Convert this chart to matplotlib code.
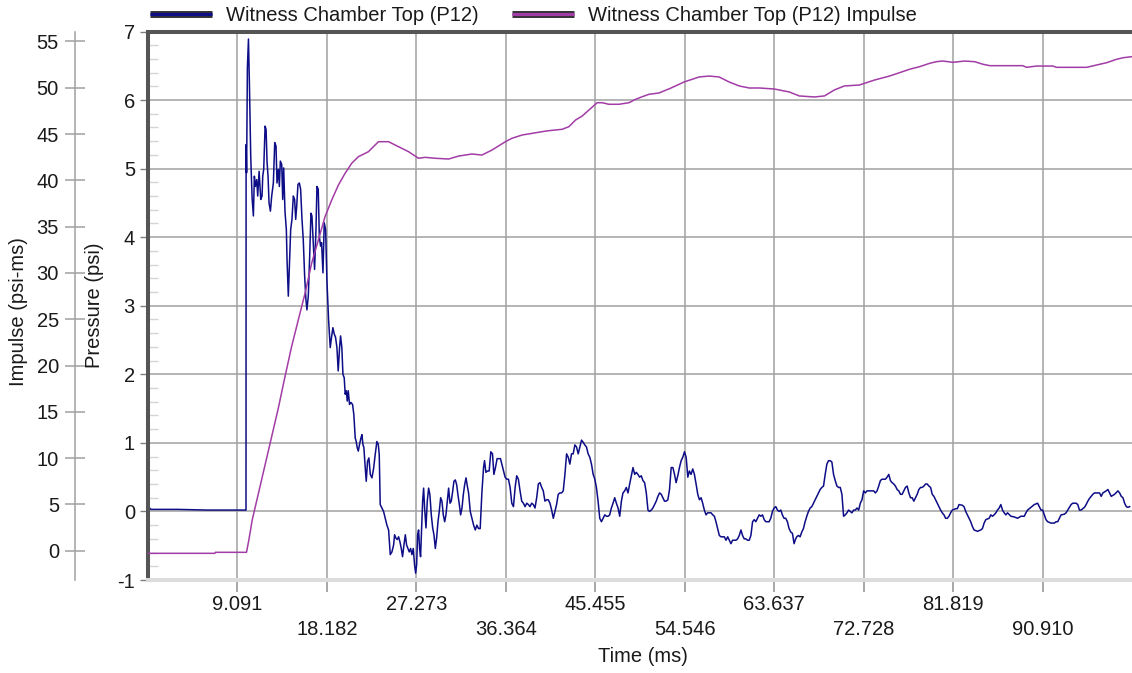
import numpy as np
import matplotlib.pyplot as plt
import matplotlib.patheffects as pe
from matplotlib.lines import Line2D
from matplotlib.ticker import MultipleLocator

plt.rcParams['font.family'] = ['Liberation Sans', 'DejaVu Sans']
plt.rcParams['font.size'] = 14.5
plt.rcParams['axes.unicode_minus'] = False

# Witness Chamber Top (P12) - pressure, time in ms / pressure in psi
t_pre = [0.0, 0.08, 0.3, 3.0, 6.0, 9.96,
         9.97, 10.02, 10.10, 10.21, 10.31, 10.44, 10.58, 10.71, 10.81, 10.92,
         11.05, 11.15, 11.29, 11.46, 11.59, 11.66, 11.76, 11.90, 12.00, 12.10,
         12.20, 12.30, 12.44, 12.57, 12.74, 12.88, 13.01, 13.11, 13.25, 13.35,
         13.45, 13.59, 13.69, 13.79, 13.92, 14.06, 14.13, 14.26, 14.36, 14.50,
         14.63, 14.77, 14.90, 15.01, 15.11, 15.24, 15.38, 15.51, 15.65, 15.78,
         15.92, 16.05, 16.15, 16.29, 16.42, 16.56, 16.66, 16.80, 16.93, 17.07,
         17.17, 17.30, 17.41, 17.54, 17.64, 17.78, 17.91, 18.05, 18.18]
p_pre = [-0.62, 0.06, 0.03, 0.03, 0.02, 0.02,
         5.35, 4.94, 6.47, 6.89, 6.21, 5.18, 4.57, 4.31, 4.89, 4.74,
         4.84, 4.60, 4.96, 4.55, 4.60, 4.89, 4.99, 5.62, 5.57, 5.09,
         4.89, 4.50, 4.38, 4.60, 4.79, 5.38, 5.33, 4.79, 4.99, 4.74,
         5.11, 5.06, 4.55, 5.01, 4.38, 4.11, 3.67, 3.14, 3.53, 4.11,
         4.26, 4.60, 4.55, 4.26, 4.45, 4.77, 4.79, 4.70, 4.26, 3.96,
         3.43, 3.09, 2.94, 3.14, 3.67, 4.35, 4.31, 3.92, 3.53, 4.11,
         4.74, 4.70, 4.01, 3.87, 3.92, 3.48, 4.21, 4.11, 3.38]

t_decay = [18.35, 18.52, 18.65, 18.79, 18.92, 19.06, 19.20, 19.33, 19.47, 19.57,
           19.70, 19.81, 19.94, 20.04, 20.15, 20.25, 20.35, 20.48, 20.62, 20.79,
           20.92, 21.06, 21.16, 21.26, 21.37, 21.50, 21.64, 21.74, 21.84, 21.94,
           22.08, 22.18, 22.31, 22.45, 22.59, 22.76, 22.93, 23.09, 23.26, 23.40,
           23.50, 23.60, 23.77, 23.94, 24.11, 24.28, 24.45, 24.62, 24.79, 24.96,
           25.06, 25.20, 25.33, 25.47, 25.60, 25.74, 25.87, 26.01, 26.15, 26.28,
           26.42, 26.55, 26.69, 26.82, 26.96, 27.09, 27.20, 27.30, 27.40, 27.50,
           27.60, 27.70, 27.81, 27.91, 28.01, 28.11, 28.25, 28.38, 28.52, 28.65,
           28.79, 28.93, 29.06, 29.20, 29.33, 29.47, 29.60, 29.74, 29.87, 30.01,
           30.15, 30.28, 30.42, 30.55, 30.69, 30.82, 30.96, 31.09, 31.23, 31.37,
           31.50, 31.64, 31.77, 31.91, 32.04, 32.18, 32.32, 32.45]
p_decay = [2.80, 2.39, 2.54, 2.68, 2.59, 2.54, 2.39, 2.05, 2.39, 2.56,
           2.39, 2.00, 1.95, 1.71, 1.76, 1.61, 1.76, 1.56, 1.59, 1.56,
           1.41, 1.07, 1.02, 0.93, 0.88, 0.98, 1.07, 1.12, 0.98, 0.93,
           0.63, 0.44, 0.73, 0.78, 0.54, 0.49, 0.63, 0.83, 1.02, 0.98,
           0.83, 0.10, 0.05, 0.00, -0.10, -0.20, -0.27, -0.63, -0.59, -0.49,
           -0.34, -0.39, -0.41, -0.37, -0.44, -0.54, -0.66, -0.49, -0.34, -0.49,
           -0.54, -0.59, -0.54, -0.63, -0.54, -0.78, -0.90, -0.78, -0.34, -0.27,
           -0.54, -0.66, -0.24, 0.15, 0.34, 0.05, -0.24, 0.15, 0.34, 0.24,
           -0.05, -0.24, -0.34, -0.54, -0.39, -0.15, 0.00, 0.20, 0.15, -0.05,
           -0.15, -0.05, 0.15, 0.34, 0.12, 0.15, 0.29, 0.44, 0.46, 0.39,
           0.24, 0.10, -0.05, 0.05, 0.24, 0.39, 0.49, 0.37]

t_mid = [32.58, 32.75, 32.92, 33.09, 33.26, 33.42, 33.59, 33.76, 33.93, 34.10,
         34.20, 34.34, 34.50, 34.67, 34.84, 35.01, 35.15, 35.31, 35.48, 35.65,
         35.82, 35.99, 36.16, 36.29, 36.46, 36.63, 36.80, 36.97, 37.14, 37.31,
         37.47, 37.64, 37.81, 37.98, 38.15, 38.32, 38.49, 38.66, 38.82, 38.99,
         39.16, 39.33, 39.50, 39.67, 39.84, 40.01, 40.17, 40.34, 40.51, 40.68,
         40.85, 41.02, 41.19, 41.36, 41.52, 41.69, 41.86, 42.03, 42.20, 42.37,
         42.54, 42.71, 42.87, 43.04, 43.21, 43.38, 43.55, 43.72, 43.89, 44.06,
         44.22, 44.39, 44.56, 44.73, 44.90, 45.07, 45.24, 45.41, 45.57, 45.74,
         45.91, 46.08, 46.25, 46.42, 46.59, 46.76, 46.92, 47.09, 47.26, 47.43,
         47.60, 47.77, 47.94, 48.11, 48.27, 48.44, 48.61, 48.78, 48.95, 49.12,
         49.29, 49.46, 49.62, 49.79, 49.96, 50.13, 50.30, 50.47, 50.64, 50.81,
         50.97, 51.14, 51.31, 51.48, 51.65, 51.82, 51.99, 52.16, 52.32, 52.49,
         52.66, 52.83, 53.00, 53.17, 53.34, 53.51, 53.67, 53.84, 54.01, 54.18,
         54.35, 54.52, 54.69, 54.86, 55.02, 55.19, 55.36, 55.53, 55.70, 55.87,
         56.04, 56.21, 56.37, 56.54, 56.71, 56.88, 57.05, 57.22, 57.39, 57.56,
         57.72, 57.89, 58.06, 58.23, 58.40, 58.57, 58.74, 58.91, 59.07, 59.24,
         59.41, 59.58, 59.75, 59.92, 60.09, 60.26, 60.42, 60.59, 60.76, 60.93,
         61.10, 61.27, 61.44, 61.61, 61.77, 61.94, 62.11, 62.28, 62.45, 62.62,
         62.79, 62.96, 63.12, 63.29, 63.46, 63.63, 63.80, 63.97, 64.14, 64.31,
         64.47, 64.64, 64.81, 64.98, 65.15, 65.32, 65.49, 65.66, 65.82]
p_mid = [0.27, 0.00, -0.10, -0.20, -0.27, -0.20, -0.25, -0.25, 0.27, 0.64,
         0.74, 0.57, 0.59, 0.59, 0.87, 0.84, 0.54, 0.64, 0.77, 0.77,
         0.77, 0.67, 0.57, 0.50, 0.47, 0.47, 0.35, 0.12, 0.07, 0.35,
         0.52, 0.47, 0.30, 0.15, 0.12, 0.07, 0.12, 0.10, 0.07, 0.12,
         0.10, 0.05, 0.20, 0.40, 0.42, 0.35, 0.30, 0.15, 0.17, 0.17,
         0.12, 0.02, -0.10, 0.00, 0.10, 0.25, 0.27, 0.27, 0.30, 0.54,
         0.84, 0.79, 0.69, 0.84, 0.84, 0.97, 0.94, 0.84, 0.94, 1.04,
         1.01, 0.97, 0.94, 0.84, 0.79, 0.69, 0.54, 0.47, 0.35, 0.15,
         -0.10, -0.15, -0.10, -0.05, -0.07, -0.07, -0.05, 0.05, 0.12, 0.20,
         0.12, 0.05, -0.07, 0.15, 0.27, 0.30, 0.35, 0.27, 0.40, 0.52,
         0.64, 0.54, 0.57, 0.54, 0.50, 0.52, 0.45, 0.42, 0.27, 0.02,
         0.00, 0.02, 0.05, 0.10, 0.15, 0.22, 0.27, 0.25, 0.20, 0.15,
         0.15, 0.17, 0.32, 0.64, 0.64, 0.54, 0.42, 0.52, 0.64, 0.74,
         0.79, 0.87, 0.79, 0.50, 0.59, 0.54, 0.62, 0.54, 0.40, 0.25,
         0.17, 0.20, 0.12, 0.02, -0.05, -0.02, -0.02, -0.02, -0.05, -0.07,
         -0.15, -0.25, -0.35, -0.37, -0.37, -0.37, -0.42, -0.37, -0.42, -0.47,
         -0.42, -0.42, -0.42, -0.40, -0.35, -0.27, -0.35, -0.40, -0.40, -0.42,
         -0.42, -0.35, -0.15, -0.12, -0.15, -0.10, -0.05, -0.07, -0.05, -0.12,
         -0.15, -0.15, -0.15, -0.10, 0.00, 0.05, 0.07, 0.02, 0.00, 0.02,
         -0.05, -0.10, -0.10, -0.15, -0.25, -0.30, -0.32, -0.47, -0.40]

t_tail = [65.93, 66.10, 66.27, 66.44, 66.61, 66.78, 66.95, 67.12, 67.29, 67.46,
          67.63, 67.80, 67.97, 68.14, 68.31, 68.48, 68.65, 68.82, 68.99, 69.16,
          69.33, 69.50, 69.67, 69.84, 70.01, 70.18, 70.35, 70.52, 70.69, 70.86,
          71.03, 71.20, 71.37, 71.54, 71.71, 71.88, 72.05, 72.22, 72.39, 72.56,
          72.73, 72.90, 73.07, 73.41, 73.75, 73.92, 74.09, 74.26, 74.43, 74.60,
          74.94, 75.11, 75.28, 75.45, 75.62, 75.79, 75.96, 76.13, 76.30, 76.47,
          76.64, 76.81, 76.98, 77.15, 77.32, 77.49, 77.66, 77.83, 78.00, 78.17,
          78.34, 78.51, 78.68, 78.85, 79.02, 79.19, 79.36, 79.53, 79.70, 79.87,
          80.04, 80.21, 80.38, 80.55, 80.72, 80.89, 81.06, 81.23, 81.40, 81.57,
          81.74, 82.08, 82.25, 82.42, 82.76, 82.93, 83.10, 83.27, 83.44, 83.61,
          83.78, 83.95, 84.29, 84.63, 84.80, 84.97, 85.14, 85.48, 85.65, 85.82,
          85.99, 86.16, 86.33, 86.50, 86.67, 86.84, 87.01, 87.18, 87.35, 87.69,
          88.03, 88.37, 88.71, 89.05, 89.22, 89.39, 89.73, 90.07, 90.41, 90.58,
          90.75, 90.92, 91.09, 91.26, 91.43, 91.77, 92.11, 92.28, 92.45, 92.62,
          92.79, 93.13, 93.30, 93.47, 93.64, 93.81, 93.98, 94.32, 94.49, 94.66,
          94.83, 95.17, 95.34, 95.51, 95.68, 95.85, 96.02, 96.19, 96.70, 96.87,
          97.04, 97.38, 97.55, 97.72, 97.89, 98.23, 98.57, 98.74, 98.91, 99.08,
          99.25, 99.42, 99.59, 99.76]
p_tail = [-0.37, -0.35, -0.37, -0.30, -0.25, -0.15, -0.07, 0.00, 0.05, 0.07,
          0.12, 0.17, 0.22, 0.27, 0.32, 0.35, 0.37, 0.54, 0.69, 0.74,
          0.74, 0.72, 0.54, 0.45, 0.37, 0.35, 0.35, 0.25, -0.07, -0.05,
          -0.02, 0.02, 0.00, -0.02, 0.02, 0.02, 0.05, 0.02, 0.12, 0.17,
          0.30, 0.27, 0.30, 0.30, 0.30, 0.27, 0.30, 0.37, 0.45, 0.47,
          0.47, 0.50, 0.54, 0.45, 0.42, 0.40, 0.37, 0.32, 0.30, 0.25,
          0.25, 0.30, 0.35, 0.37, 0.27, 0.20, 0.20, 0.15, 0.20, 0.25,
          0.32, 0.35, 0.35, 0.37, 0.40, 0.40, 0.37, 0.35, 0.25, 0.22,
          0.17, 0.12, 0.07, 0.02, -0.02, -0.05, -0.10, -0.10, -0.07, -0.02,
          0.02, 0.04, 0.04, 0.10, 0.09, 0.07, 0.00, -0.05, -0.10, -0.15,
          -0.22, -0.27, -0.29, -0.27, -0.25, -0.17, -0.12, -0.10, -0.05, -0.07,
          -0.05, -0.02, 0.02, 0.05, 0.10, 0.02, -0.02, -0.05, -0.02, -0.07,
          -0.08, -0.10, -0.07, -0.07, -0.02, 0.02, 0.06, 0.10, 0.12, 0.07,
          0.02, 0.02, -0.05, -0.12, -0.15, -0.17, -0.17, -0.15, -0.15, -0.10,
          -0.05, -0.04, -0.02, 0.02, 0.06, 0.10, 0.12, 0.12, 0.10, 0.02,
          0.02, 0.06, 0.10, 0.15, 0.19, 0.22, 0.25, 0.27, 0.27, 0.22,
          0.27, 0.30, 0.32, 0.27, 0.22, 0.25, 0.30, 0.27, 0.22, 0.20,
          0.12, 0.07, 0.06, 0.07]

# impulse, time in ms / psi-ms
t_imp = [0.0, 6.80, 6.85, 10.01, 10.25, 10.59, 13.24, 13.92, 14.59, 15.27,
         15.96, 16.63, 17.31, 17.99, 18.67, 19.35, 20.03, 20.37, 20.70, 21.38,
         22.40, 23.42, 24.44, 25.46, 26.48, 27.49, 28.18, 29.19, 30.55, 31.57,
         32.92, 33.94, 34.96, 36.32, 36.99, 38.01, 39.03, 40.05, 40.73, 42.09,
         42.77, 43.45, 44.12, 44.81, 45.65, 46.16, 46.84, 47.86, 48.88, 49.56,
         50.23, 50.92, 51.93, 53.16, 54.48, 56.01, 57.03, 58.04, 59.06, 60.08,
         61.10, 62.12, 63.65, 65.17, 66.19, 67.72, 68.74, 69.76, 70.77, 72.30,
         73.83, 75.36, 76.37, 77.39, 78.41, 79.43, 80.11, 80.78, 81.80, 82.99,
         84.01, 84.86, 85.54, 88.90, 89.28, 90.29, 91.96, 92.33, 95.39, 96.40,
         97.42, 98.44, 99.11, 99.97]
impulse = [-0.28, -0.28, -0.17, -0.17, 1.16, 3.32, 15.38, 18.79, 22.03, 24.91,
           27.80, 31.04, 33.55, 36.07, 37.87, 39.49, 40.76, 41.30, 41.84, 42.55,
           43.09, 44.17, 44.17, 43.63, 43.09, 42.38, 42.48, 42.38, 42.30, 42.62,
           42.84, 42.73, 43.27, 44.17, 44.54, 44.89, 45.07, 45.25, 45.36, 45.51,
           45.79, 46.51, 46.94, 47.59, 48.38, 48.38, 48.21, 48.21, 48.38, 48.75,
           49.03, 49.29, 49.43, 49.97, 50.62, 51.16, 51.26, 51.16, 50.62, 50.19,
           49.97, 49.97, 49.86, 49.54, 49.11, 49.00, 49.11, 49.76, 50.19, 50.29,
           50.83, 51.26, 51.62, 51.99, 52.27, 52.63, 52.81, 52.88, 52.74, 52.88,
           52.81, 52.53, 52.38, 52.38, 52.20, 52.34, 52.34, 52.20, 52.20, 52.45,
           52.70, 53.07, 53.24, 53.35]

x_step = 9.091
x_ticks = [round(k * x_step, 3) for k in range(1, 11)]
p_ticks = list(range(-1, 8))
i_ticks = list(range(0, 56, 5))

blue = '#0d0d87'
purple = '#a23ca6'
grid_c = '#a0a0a0'
txt_c = '#1a1a1a'

t_p = np.concatenate([t_pre, t_decay, t_mid, t_tail])
p_all = np.concatenate([p_pre, p_decay, p_mid, p_tail])

fig = plt.figure(figsize=(11.32, 6.73), dpi=100)
ax = fig.add_axes([148 / 1132, 1 - 580 / 673, 984 / 1132, 548.5 / 673])

ax.plot(t_p, p_all, color=blue, lw=1.1)
ax.set_xlim(0, 100)
ax.set_ylim(-1, 7)

# pressure axis
ax.set_yticks(p_ticks)
ax.yaxis.set_minor_locator(MultipleLocator(0.2))
ax.tick_params(axis='y', which='major', direction='out', length=5.8, width=1.0,
               color='#808080', pad=3.6, labelcolor=txt_c)
ax.tick_params(axis='y', which='minor', direction='in', length=7.2, width=1.0,
               color='#d4d4d4')

# staggered time labels: odd ones on the upper row, even ones below
ax.set_xticks(x_ticks[0::2])
ax.set_xticklabels(['%.3f' % v for v in x_ticks[0::2]])
ax.set_xticks(x_ticks[1::2], minor=True)
ax.set_xticklabels(['%.3f' % v for v in x_ticks[1::2]], minor=True)
ax.tick_params(axis='x', which='both', direction='out', length=8.6, width=1.1,
               color='#909090', labelcolor=txt_c)
ax.tick_params(axis='x', which='major', pad=2.0)
ax.tick_params(axis='x', which='minor', pad=20.0)

ax.grid(True, axis='x', which='both', color=grid_c, lw=1.1)
ax.grid(True, axis='y', which='major', color=grid_c, lw=1.1)

ax.spines['left'].set_color('#555555')
ax.spines['left'].set_linewidth(2.9)
ax.spines['top'].set_color('#555555')
ax.spines['top'].set_linewidth(2.9)
ax.spines['bottom'].set_color('#dcdcdc')
ax.spines['bottom'].set_linewidth(2.9)
ax.spines['right'].set_visible(False)

ax.set_ylabel('Pressure (psi)', color=txt_c)
ax.yaxis.set_label_coords(-0.0447, 0.501)
ax.set_xlabel('Time (ms)', color=txt_c)
ax.xaxis.set_label_coords(0.503, -0.122)

# impulse on its own axis, pushed out to the left
ax2 = ax.twinx()
ax2.plot(t_imp, impulse, color=purple, lw=1.1)
ax2.set_ylim(-3.16, 56.07)
ax2.set_yticks(i_ticks)
ax2.yaxis.tick_left()
ax2.yaxis.set_label_position('left')
ax2.spines['left'].set_position(('outward', 52.6))
ax2.spines['left'].set_color(grid_c)
ax2.spines['left'].set_linewidth(1.1)
for s in ['right', 'top', 'bottom']:
    ax2.spines[s].set_visible(False)
ax2.tick_params(axis='y', direction='inout', length=14.4, width=1.1,
                color=grid_c, pad=4.3, labelcolor=txt_c)
ax2.set_ylabel('Impulse (psi-ms)', color=txt_c)
ax2.yaxis.set_label_coords(-0.122, 0.489)

# legend along the top edge
handles = [
    Line2D([], [], color=blue, lw=2.3, solid_capstyle='butt',
           path_effects=[pe.Stroke(linewidth=5.0, foreground='#333333'), pe.Normal()]),
    Line2D([], [], color=purple, lw=2.3, solid_capstyle='butt',
           path_effects=[pe.Stroke(linewidth=5.0, foreground='#333333'), pe.Normal()]),
]
labels = ['Witness Chamber Top (P12)', 'Witness Chamber Top (P12) Impulse']
leg = ax.legend(handles, labels, loc='center left', bbox_to_anchor=(0.002, 1.029),
                ncol=2, frameon=False, handlelength=3.08, handletextpad=0.7,
                columnspacing=1.65, borderpad=0, borderaxespad=0)
for t in leg.get_texts():
    t.set_color(txt_c)

fig.savefig('out.png', dpi=100)
